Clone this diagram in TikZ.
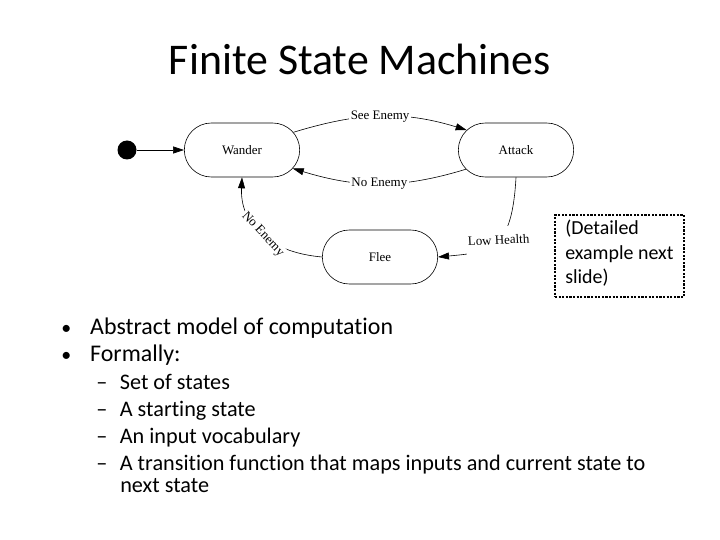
\documentclass[tikz,border=0pt]{standalone}
\usepackage{fontspec}
\setmainfont{Carlito}[Ligatures=NoCommon]
\newfontfamily\diagfont{Liberation Serif}
\usetikzlibrary{arrows.meta,shapes.misc}

\tikzset{
	fsmstate/.style={draw, rounded rectangle, minimum width=122bp, minimum height=54bp, font=\diagfont\fontsize{13}{15}\selectfont},
	edgelabel/.style={fill=white, inner sep=1.5bp, font=\diagfont\fontsize{13}{15}\selectfont},
	tip/.style={-{Triangle[length=11bp,width=7bp]}},
	bodytext/.style={anchor=base west, inner sep=0pt, font=\fontsize{24}{28}\selectfont},
	subtext/.style={anchor=base west, inner sep=0pt, font=\fontsize{22.3}{26}\selectfont}
}

\begin{document}
\begin{tikzpicture}[x=1bp, y=-1bp, line width=0.6bp]
	\useasboundingbox (0, 0) rectangle (720, 540);
	\draw node[anchor=base, inner sep=0pt] at (360, 75) (title) {\fontsize{44}{52}\selectfont Finite State Machines};
	
	% states
	\draw node[circle, fill=black, inner sep=0pt, minimum size=19bp] at (127, 150) (start) {};
	\draw node[fsmstate] at (242, 150) (wander) {Wander};
	\draw node[fsmstate] at (516, 150) (attack) {Attack};
	\draw node[fsmstate] at (380, 257) (flee) {Flee};
	
	% transitions
	\draw [tip] (start) -- (wander);
	\draw [tip] (wander.19) to[out=17, in=163] node[edgelabel, pos=.5] {See Enemy} (attack.158);
	\draw [tip] (attack.201) to[out=197, in=-17] node[edgelabel, pos=.5] {No Enemy} (wander.340);
	\draw [tip] (flee.west) .. controls (266, 252) and (240, 222) .. node[edgelabel, pos=.47, rotate=-47] {No Enemy} (wander.south);
	\draw [tip] (attack.south) .. controls (512, 250) and (492, 252) .. node[edgelabel, pos=.46, inner ysep=9bp, rotate=3] {Low Health} (flee.east);
	
	% note
	\draw node[draw, line width=2.6bp, dash pattern=on 2.2bp off 1.4bp, minimum width=129bp, minimum height=82bp, inner sep=0pt] at (619.5, 256) (note) {};
	\draw node[anchor=north west, align=left, inner sep=0pt, font=\fontsize{20}{24.5}\selectfont] at (565, 220) (notetext) {(Detailed\\example next\\slide)};
	
	% bullets
	\draw node[bodytext] at (61, 334) (b1) {{\fontsize{20}{20}\selectfont•}\hspace{19bp}Abstract model of computation};
	\draw node[bodytext] at (61, 361) (b2) {{\fontsize{20}{20}\selectfont•}\hspace{19bp}Formally:};
	\draw node[subtext] at (96, 389) (s1) {–\hspace{12.5bp}Set of states};
	\draw node[subtext] at (96, 416) (s2) {–\hspace{12.5bp}A starting state};
	\draw node[subtext] at (96, 443) (s3) {–\hspace{12.5bp}An input vocabulary};
	\draw node[subtext] at (96, 470) (s4) {–\hspace{12.5bp}A transition function that maps inputs and current state to};
	\draw node[subtext] at (120, 492) (s5) {next state};
\end{tikzpicture}
\end{document}
